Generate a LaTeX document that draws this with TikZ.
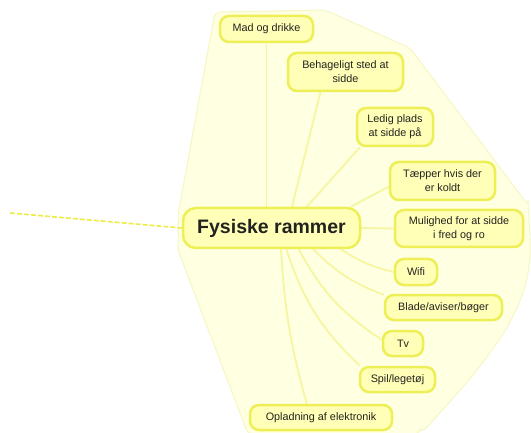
\documentclass[tikz,border=0pt]{standalone}
\usepackage{fontspec}
\setmainfont{Liberation Sans}
\usetikzlibrary{backgrounds}
\definecolor{bgfill}{RGB}{255,255,226}
\definecolor{bgline}{RGB}{246,246,196}
\definecolor{nfill}{RGB}{255,255,184}
\definecolor{nline}{RGB}{238,238,86}
\definecolor{cline}{RGB}{246,246,160}
\definecolor{dline}{RGB}{236,236,70}
\definecolor{txt}{RGB}{34,34,30}
\begin{document}
\begin{tikzpicture}[x=1pt,y=1pt,
  topic/.style={draw=nline, fill=nfill, line width=2.5pt, rounded corners=9pt,
    text=txt, align=center, inner sep=0pt, font=\fontsize{10.8}{14}\selectfont},
  central/.style={topic, rounded corners=13pt, font=\fontsize{19.5}{22}\selectfont\bfseries},
  conn/.style={draw=cline, line width=1.8pt}]
\useasboundingbox (0,0) rectangle (531,432);
% nodes
\node[central, minimum width=177pt, minimum height=40pt] (c) at (271.5,204) {Fysiske rammer};
\node[topic, minimum width=93pt, minimum height=26pt] (m1) at (266.5,403) {Mad og drikke};
\node[topic, minimum width=115pt, minimum height=38pt] (m2) at (345.5,360) {Behageligt sted at\\sidde};
\node[topic, minimum width=76pt, minimum height=38pt] (m3) at (395,305) {Ledig plads\\at sidde på};
\node[topic, minimum width=105pt, minimum height=38pt] (m4) at (442.5,251) {Tæpper hvis der\\er koldt};
\node[topic, minimum width=128pt, minimum height=37pt] (m5) at (459,203.5) {Mulighed for at sidde\\i fred og ro};
\node[topic, minimum width=42pt, minimum height=26pt] (m6) at (416,160) {Wifi};
\node[topic, minimum width=117pt, minimum height=25pt] (m7) at (443.5,124.5) {Blade/aviser/bøger};
\node[topic, minimum width=40pt, minimum height=25pt] (m8) at (403,88.5) {Tv};
\node[topic, minimum width=75pt, minimum height=25pt] (m9) at (397.5,52.5) {Spil/legetøj};
\node[topic, minimum width=142pt, minimum height=25pt] (m10) at (321,14.5) {Opladning af elektronik};
\begin{scope}[on background layer]
% boundary region
\path[fill=bgfill, draw=bgline, line width=1pt, rounded corners=5pt]
  (178,217) -- (215,420) -- (325,422) -- (410,384) -- (528,227)
  -- plot[smooth, tension=0.6] coordinates {(528,227) (529,166) (513,116) (480,66) (437,16) (420,-2)}
  -- (248,-2) -- (178,182) -- cycle;
% connectors
\draw[conn] (c.north -| m1.south) -- (m1.south);
\draw[conn] (c.46) -- (m2.219);
\draw[conn] (c.31) -- (m3.210);
\draw[conn] (c.15) -- (m4.186);
\draw[conn] (c.east) -- (m5.west);
\draw[conn] (c.-17) to[bend right=10] (m6.west);
\draw[conn] (c.-27) to[bend right=12] (m7.168);
\draw[conn] (c.-38) to[bend right=14] (m8.170);
\draw[conn] (c.-55) to[bend right=14] (m9.160);
\draw[conn] (c.-66) to[bend right=6] (m10.136);
\end{scope}
\coordinate (dstart) at (10,219);
\draw[dline, line width=1.6pt, dash pattern=on 5pt off 2pt] (dstart) -- (c.west);
\end{tikzpicture}
\end{document}
